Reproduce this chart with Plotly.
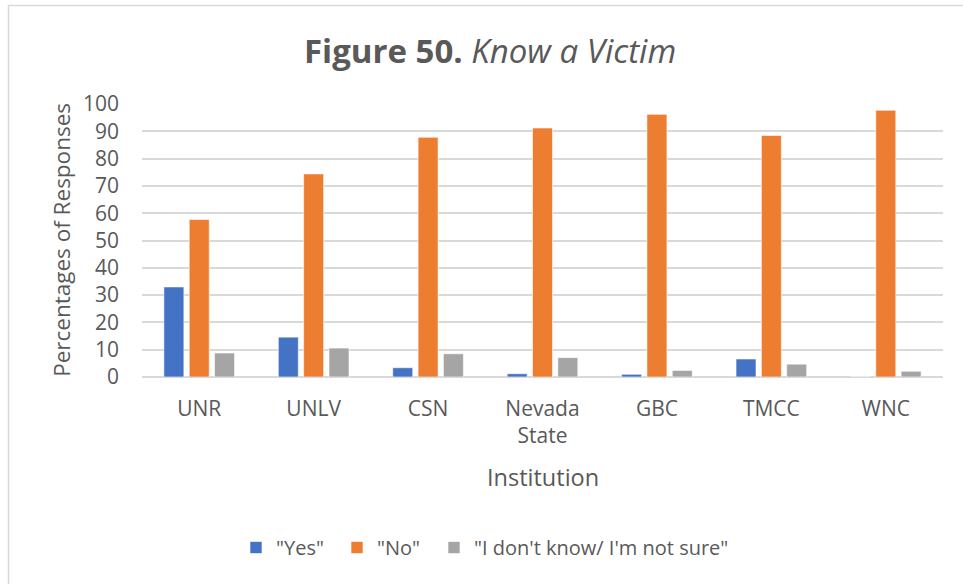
import plotly.graph_objects as go

institutions = ["UNR", "UNLV", "CSN", "Nevada<br>State", "GBC", "TMCC", "WNC"]
yes_vals = [33.0, 14.6, 3.4, 1.2, 1.0, 6.6, 0.0]
no_vals = [57.7, 74.4, 87.8, 91.2, 96.2, 88.5, 97.7]
unsure_vals = [8.8, 10.6, 8.5, 7.1, 2.4, 4.7, 2.1]
series_names = ['"Yes"', '"No"', '"I don\'t know/ I\'m not sure"']
colors = ["#4472C4", "#ED7D31", "#A5A5A5"]
legend_widths = [56, 52, 280]

W, H = 963, 584
L, R, T, B = 142, 943, 104, 377.3

def px(x):
    return (x - L) / (R - L)

def py(y):
    return (B - y) / (B - T)

FONT = "Open Sans"
TXT = "#595959"

fig = go.Figure()
for name, vals, c, lw in zip(series_names, [yes_vals, no_vals, unsure_vals], colors, legend_widths):
    fig.add_trace(go.Bar(x=institutions, y=vals, name=name, legendwidth=lw,
                         marker=dict(color=c, line=dict(color="white", width=0.6))))

fig.update_layout(
    width=W, height=H,
    margin=dict(l=L, r=W - R, t=T, b=H - B, pad=0, autoexpand=False),
    paper_bgcolor="white", plot_bgcolor="white",
    barmode="group", bargap=0.336, bargroupgap=0.21,
    font=dict(family=FONT, color=TXT, size=20),
    showlegend=True,
    legend=dict(orientation="h", x=px(236), xanchor="left", y=py(548), yanchor="middle",
                font=dict(size=20, color=TXT), itemwidth=30, traceorder="normal"),
    xaxis=dict(showgrid=False, showline=False, ticks="", tickfont=dict(size=21, color=TXT),
               ticklabelstandoff=17),
    yaxis=dict(range=[0, 100], dtick=10, showgrid=True, gridcolor="#D9D9D9", gridwidth=1.5,
               zeroline=True, zerolinecolor="#D9D9D9", zerolinewidth=1.5,
               showline=False, ticks="", tickfont=dict(size=21, color=TXT), ticklabelstandoff=22),
)

fig.add_annotation(text="<b>Figure 50.</b> <i>Know a Victim</i>", x=px(490), y=py(50),
                   xref="paper", yref="paper", showarrow=False,
                   font=dict(size=33, color=TXT, family=FONT), xanchor="center", yanchor="middle")
fig.add_annotation(text="Percentages of Responses", x=px(62), y=py(240),
                   xref="paper", yref="paper", showarrow=False, textangle=-90,
                   font=dict(size=22.5, color=TXT, family=FONT), xanchor="center", yanchor="middle")
fig.add_annotation(text="Institution", x=px(543), y=py(477),
                   xref="paper", yref="paper", showarrow=False,
                   font=dict(size=23.5, color=TXT, family=FONT), xanchor="center", yanchor="middle")

fig.add_shape(type="rect", xref="paper", yref="paper",
              x0=px(8.5), x1=px(975), y0=py(5.5), y1=py(600),
              line=dict(color="#D9D9D9", width=1.5), fillcolor="rgba(0,0,0,0)", layer="above")

fig.write_html("out.html", config={"displayModeBar": False},
               post_script="document.body.style.margin='0px';")
